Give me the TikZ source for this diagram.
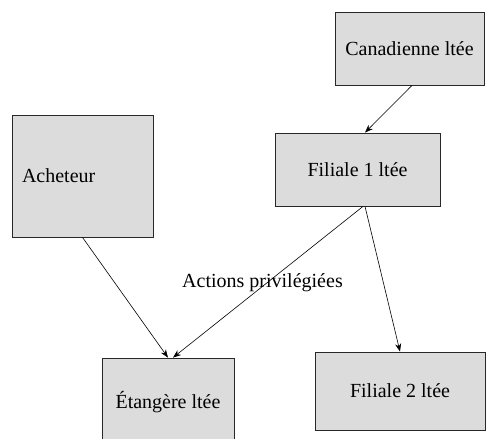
\documentclass[tikz,border=0pt]{standalone}
\usepackage{fontspec}
\setmainfont{Liberation Serif}
\usetikzlibrary{arrows.meta}
\definecolor{boxfill}{RGB}{220,220,220}
\definecolor{boxline}{RGB}{40,40,40}
\begin{document}
\begin{tikzpicture}[x=1pt,y=-1pt,
  company/.style={draw=boxline,line width=0.8pt,fill=boxfill,inner sep=0pt,
    font=\fontsize{20}{24}\selectfont},
  link/.style={draw=black,line width=0.6pt,-{Stealth[length=8pt,width=6pt]}},
  tag/.style={font=\fontsize{20}{24}\selectfont,inner sep=0pt}]
\useasboundingbox (0,0) rectangle (486,438);
\begin{scope}
\clip (0,0) rectangle (486,438);
% companies
\node[company,minimum width=149pt,minimum height=73pt] (can) at (409.5,48.5) {Canadienne ltée};
\node[company,minimum width=141pt,minimum height=122pt,text width=121pt,align=left] (ach) at (82.5,176) {Acheteur};
\node[company,minimum width=165pt,minimum height=73pt] (f1) at (357.5,169.5) {Filiale 1 ltée};
\node[company,minimum width=132pt,minimum height=88pt] (et) at (168,402) {Étangère ltée};
\node[company,minimum width=170pt,minimum height=78pt] (f2) at (400,391) {Filiale 2 ltée};
\end{scope}
% ownership links
\draw[link] ([xshift=2.5pt]can.south) -- ([xshift=7.5pt]f1.north);
\draw[link] ([xshift=5.5pt]f1.south) -- ([xshift=5pt]et.north);
\draw[link] ([xshift=7.5pt]f1.south) -- (f2.north);
\draw[link] (ach.south) -- (et.north);
\node[tag] (lbl) at (262.5,283) {Actions privilégiées};
\end{tikzpicture}
\end{document}
